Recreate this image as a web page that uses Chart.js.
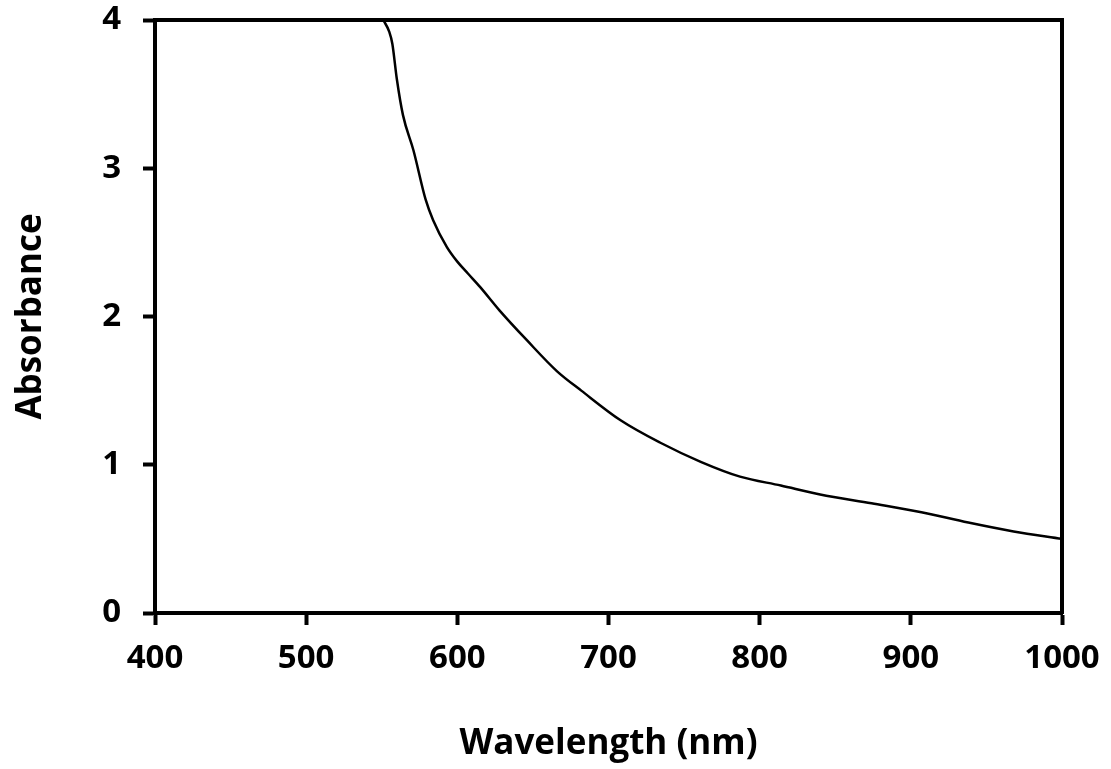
<!DOCTYPE html>
<html>
<head>
<meta charset="utf-8">
<script src="https://cdn.jsdelivr.net/npm/chart.js@4/dist/chart.umd.min.js"></script>
<style>
html,body{margin:0;padding:0;background:#fff;}
#wrap{width:1111px;height:769px;}
</style>
</head>
<body>
<div id="wrap"><canvas id="c" width="1111" height="769"></canvas></div>
<script>
const wavelength = [551, 555, 557, 560, 564, 571, 579, 584, 593, 600, 607, 615, 628, 646, 666, 682, 708, 734, 761, 787, 814, 840, 874, 907, 938, 968, 1000];
const absorbance = [4.0, 3.92, 3.84, 3.60, 3.36, 3.12, 2.79, 2.65, 2.47, 2.37, 2.29, 2.20, 2.04, 1.84, 1.63, 1.50, 1.30, 1.15, 1.02, 0.92, 0.86, 0.80, 0.74, 0.68, 0.61, 0.55, 0.50];
const xTicks = [400, 500, 600, 700, 800, 900, 1000];
const yTicks = [0, 1, 2, 3, 4];
const xTitle = 'Wavelength (nm)';
const yTitle = 'Absorbance';

const points = wavelength.map((w, i) => ({x: w, y: absorbance[i]}));
const FONT = "'Open Sans', sans-serif";

new Chart(document.getElementById('c'), {
  type: 'line',
  data: {
    datasets: [{
      data: points,
      borderColor: '#000',
      borderWidth: 2.5,
      pointRadius: 0,
      fill: false,
      cubicInterpolationMode: 'monotone'
    }]
  },
  options: {
    responsive: false,
    animation: false,
    devicePixelRatio: 1,
    layout: {padding: {left: 0, right: 49, top: 20, bottom: 0}},
    plugins: {legend: {display: false}, tooltip: {enabled: false}},
    scales: {
      x: {
        type: 'linear', position: 'bottom', min: 400, max: 1000,
        afterBuildTicks: s => { s.ticks = xTicks.map(v => ({value: v})); },
        afterFit: s => { s.height = 156; s.paddingLeft = 0; s.paddingRight = 0; },
        border: {display: true, color: '#000', width: 4},
        grid: {display: true, drawOnChartArea: false, drawTicks: true, tickLength: 12, tickWidth: 4, tickColor: '#000'},
        ticks: {color: '#000', font: {family: FONT, size: 33, weight: 'bold'}, padding: 14, maxRotation: 0,
                callback: v => String(v)},
        title: {display: true, text: xTitle, color: '#000', font: {family: FONT, size: 35, weight: 'bold'}, padding: {top: 30}}
      },
      y: {
        type: 'linear', position: 'left', min: 0, max: 4,
        afterBuildTicks: s => { s.ticks = yTicks.map(v => ({value: v})); },
        afterFit: s => { s.width = 155; s.paddingTop = 0; s.paddingBottom = 0; },
        border: {display: true, color: '#000', width: 4},
        grid: {display: true, drawOnChartArea: false, drawTicks: true, tickLength: 12, tickWidth: 4, tickColor: '#000'},
        ticks: {color: '#000', font: {family: FONT, size: 33, weight: 'bold'}, padding: 22, callback: v => String(v)},
        title: {display: true, text: yTitle, color: '#000', font: {family: FONT, size: 35, weight: 'bold'}, padding: {top: 10, bottom: 10}}
      },
      xTop: {
        type: 'linear', position: 'top', min: 400, max: 1000,
        afterFit: s => { s.height = 0; s.paddingLeft = 0; s.paddingRight = 0; },
        border: {display: true, color: '#000', width: 4},
        grid: {display: false},
        ticks: {display: false}
      },
      yRight: {
        type: 'linear', position: 'right', min: 0, max: 4,
        afterFit: s => { s.width = 0; s.paddingTop = 0; s.paddingBottom = 0; },
        border: {display: true, color: '#000', width: 4},
        grid: {display: false},
        ticks: {display: false}
      }
    }
  }
});
</script>
</body>
</html>
